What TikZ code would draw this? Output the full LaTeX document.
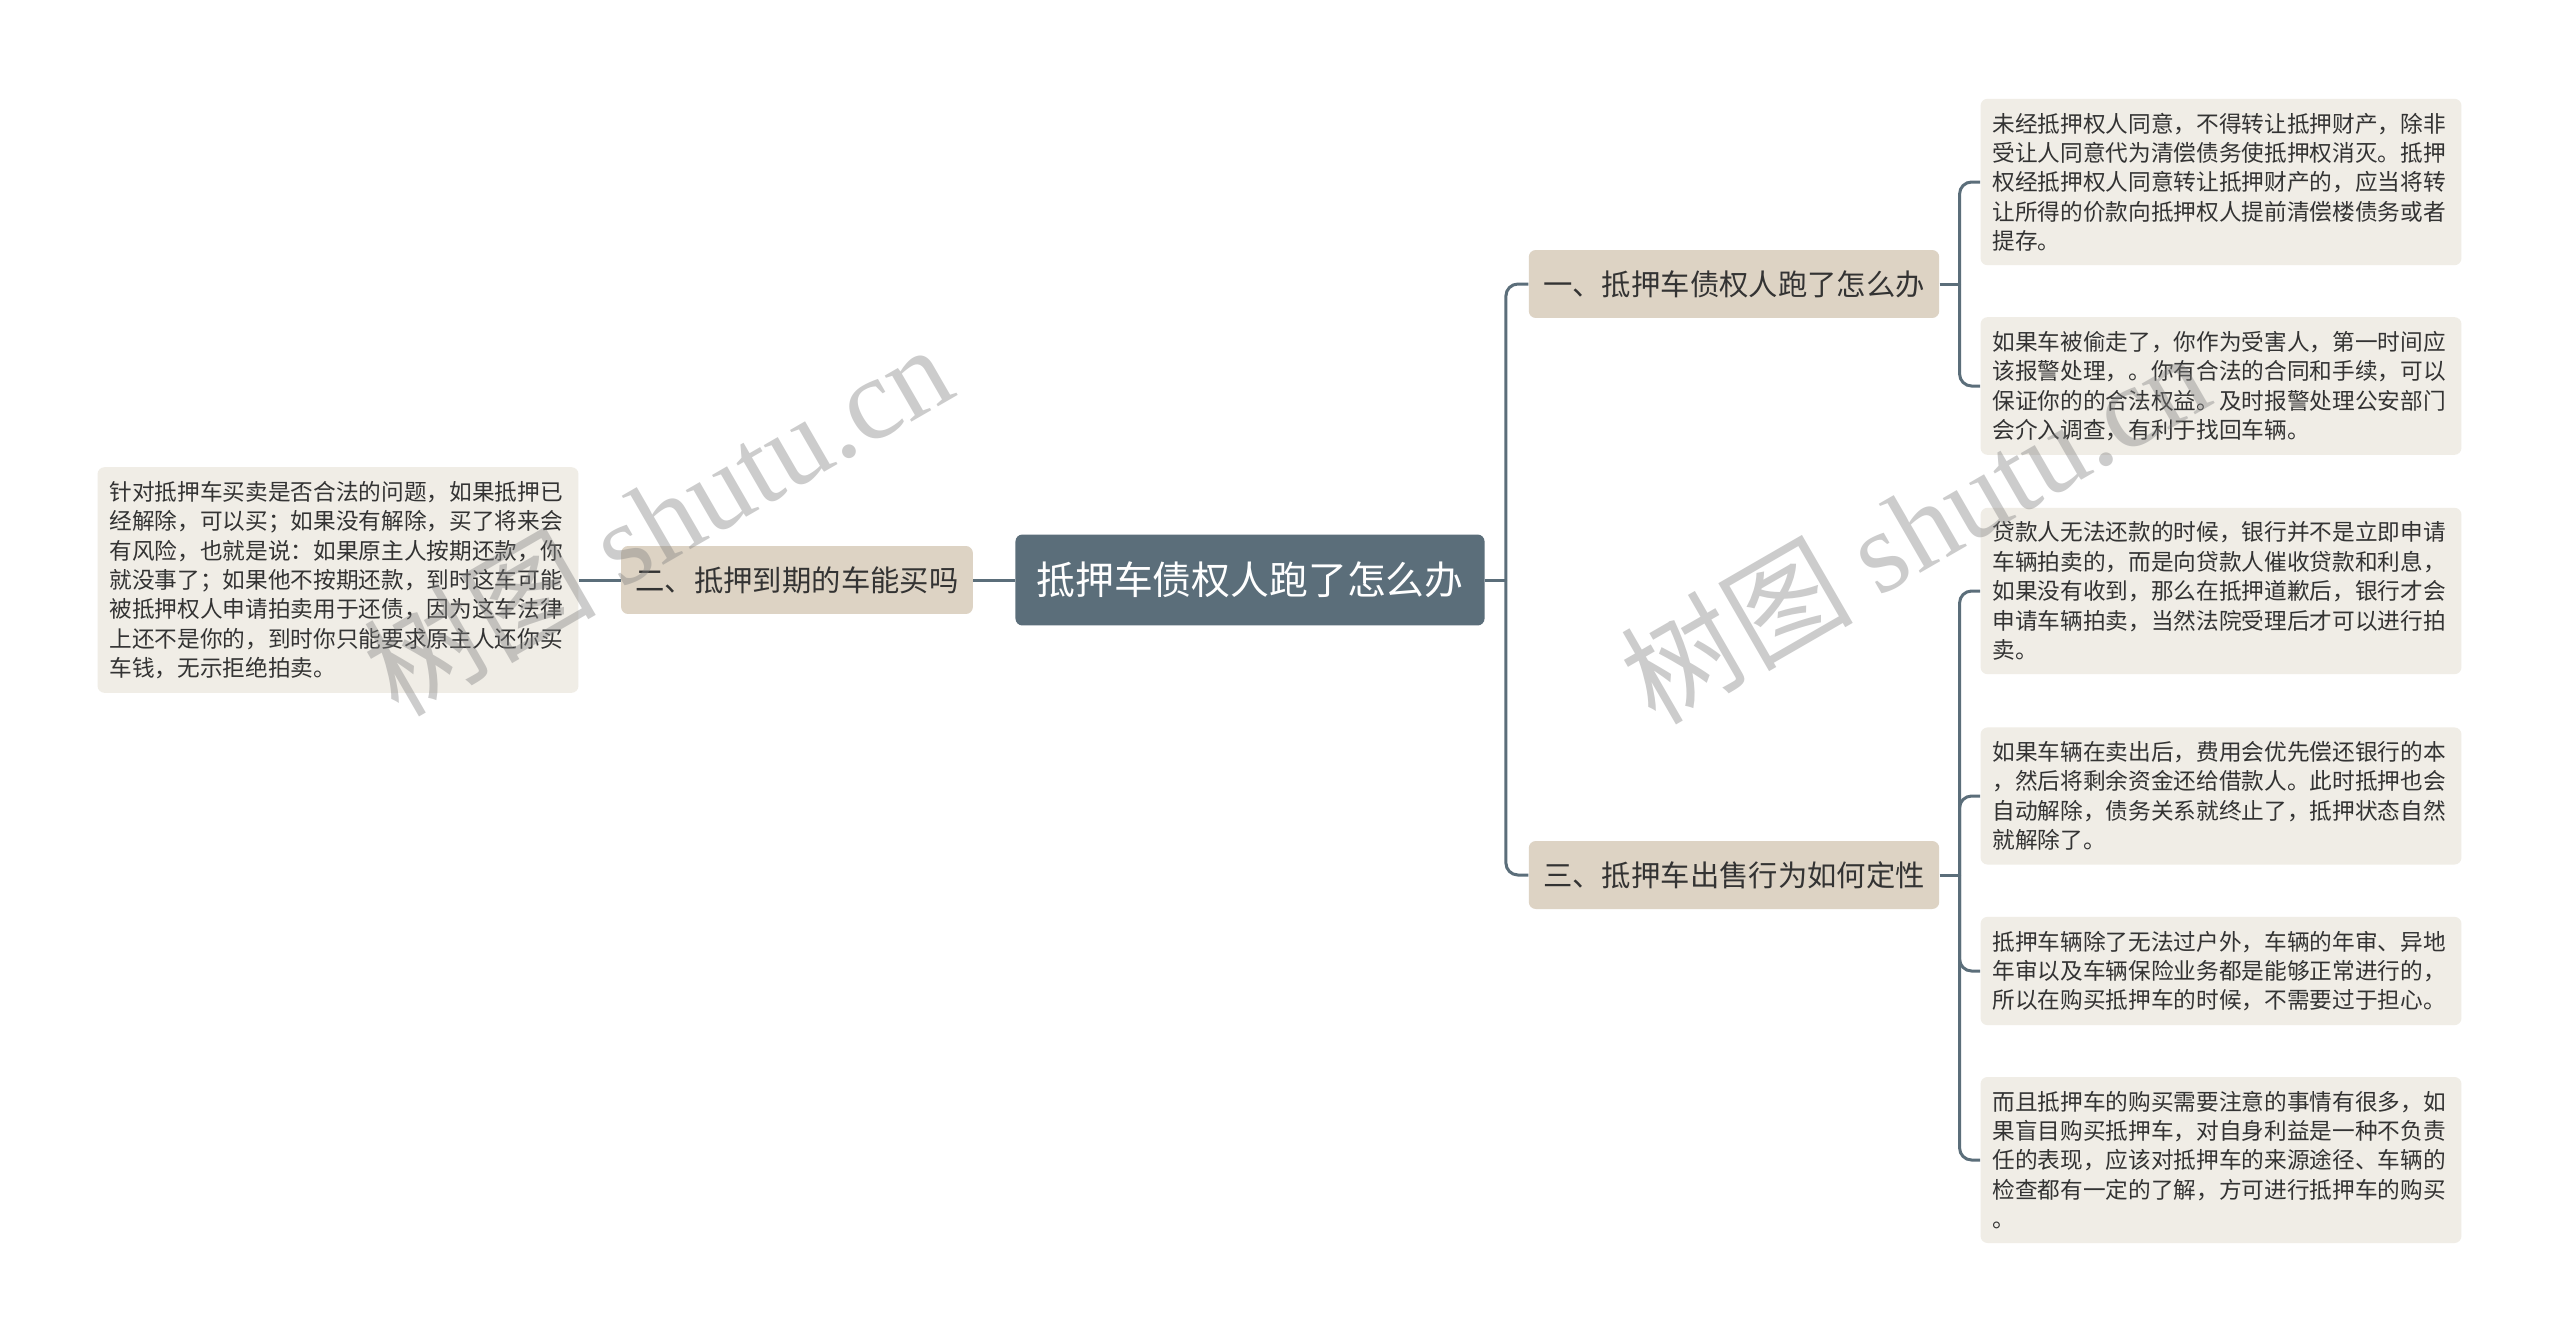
\documentclass[tikz,border=0pt]{standalone}
\usepackage{fontspec}
\setmainfont{Noto Sans CJK SC}
\newfontfamily\wmlatin{Liberation Serif}
\definecolor{slate}{HTML}{5B6E7A}
\definecolor{sand}{HTML}{DDD3C4}
\definecolor{paper}{HTML}{F0EDE6}
\definecolor{ink}{HTML}{333333}
\newcommand{\leaffont}{\fontsize{12.9}{16.7}\selectfont}

\begin{document}
\begin{tikzpicture}[x=0.02cm,y=-0.02cm,
  every node/.style={rounded corners=0.14cm,text=ink},
  leaf/.style={fill=paper,font=\leaffont,text width=9.14cm,align=left,inner xsep=0.24cm,inner ysep=0.28cm},
  branch/.style={fill=sand,font=\fontsize{16.7}{20}\selectfont,minimum height=1.36cm,inner xsep=0.29cm},
  link/.style={draw=slate,line width=0.06cm,rounded corners=0.24cm}]
\fill[white] (0,0) rectangle (2560,1342);
\useasboundingbox (0,0) rectangle (2560,1342);

\node[fill=slate,text=white,font=\fontsize{22.1}{26}\selectfont,minimum height=1.82cm,inner xsep=0.42cm] (root) at (1250,580) {抵押车债权人跑了怎么办};

%branches
\node[branch] (b1) at (1734,284) {一、抵押车债权人跑了怎么办};
\node[branch] (b2) at (797,580) {二、抵押到期的车能买吗};
\node[branch] (b3) at (1734,875) {三、抵押车出售行为如何定性};

%leaves
\node[leaf] (l0) at (338,580) {针对抵押车买卖是否合法的问题，如果抵押已\\经解除，可以买；如果没有解除，买了将来会\\有风险，也就是说：如果原主人按期还款，你\\就没事了；如果他不按期还款，到时这车可能\\被抵押权人申请拍卖用于还债，因为这车法律\\上还不是你的，到时你只能要求原主人还你买\\车钱，无示拒绝拍卖。};
\node[leaf] (l1) at (2221,182) {未经抵押权人同意，不得转让抵押财产，除非\\受让人同意代为清偿债务使抵押权消灭。抵押\\权经抵押权人同意转让抵押财产的，应当将转\\让所得的价款向抵押权人提前清偿楼债务或者\\提存。};
\node[leaf] (l2) at (2221,386) {如果车被偷走了，你作为受害人，第一时间应\\该报警处理，。你有合法的合同和手续，可以\\保证你的的合法权益。及时报警处理公安部门\\会介入调查，有利于找回车辆。};
\node[leaf] (l3) at (2221,591) {贷款人无法还款的时候，银行并不是立即申请\\车辆拍卖的，而是向贷款人催收贷款和利息，\\如果没有收到，那么在抵押道歉后，银行才会\\申请车辆拍卖，当然法院受理后才可以进行拍\\卖。};
\node[leaf] (l4) at (2221,796) {如果车辆在卖出后，费用会优先偿还银行的本\\，然后将剩余资金还给借款人。此时抵押也会\\自动解除，债务关系就终止了，抵押状态自然\\就解除了。};
\node[leaf] (l5) at (2221,971) {抵押车辆除了无法过户外，车辆的年审、异地\\年审以及车辆保险业务都是能够正常进行的，\\所以在购买抵押车的时候，不需要过于担心。};
\node[leaf] (l6) at (2221,1160) {而且抵押车的购买需要注意的事情有很多，如\\果盲目购买抵押车，对自身利益是一种不负责\\任的表现，应该对抵押车的来源途径、车辆的\\检查都有一定的了解，方可进行抵押车的购买\\。};

%left side
\draw[link] (root.west) -- (b2.east);
\draw[link] (b2.west) -- (l0.east);
%right side
\path (root.east) ++(21,0) coordinate (j0);
\draw[link] (root.east) -- (j0);
\draw[link] (b1.west) -| (j0);
\draw[link] (b3.west) -| (j0);
\path (b1.east) ++(20,0) coordinate (j1);
\draw[link] (b1.east) -- (j1);
\draw[link] (l1.west) -| (j1);
\draw[link] (l2.west) -| (j1);
\path (b3.east) ++(20,0) coordinate (j3);
\draw[link] (b3.east) -- (j3);
\draw[link] (l3.west) -| (j3);
\draw[link] (l4.west) -| (j3);
\draw[link] (l5.west) -| (j3);
\draw[link] (l6.west) -| (j3);

%watermarks
\begin{scope}[every node/.style={rotate=30,text=gray,opacity=0.4,font=\fontsize{66}{66}\selectfont}]
\node (wm1) at (657,518) {树图 {\wmlatin shutu.cn}};
\node (wm2) at (1914,526) {树图 {\wmlatin shutu.cn}};
\end{scope}
\end{tikzpicture}
\end{document}
